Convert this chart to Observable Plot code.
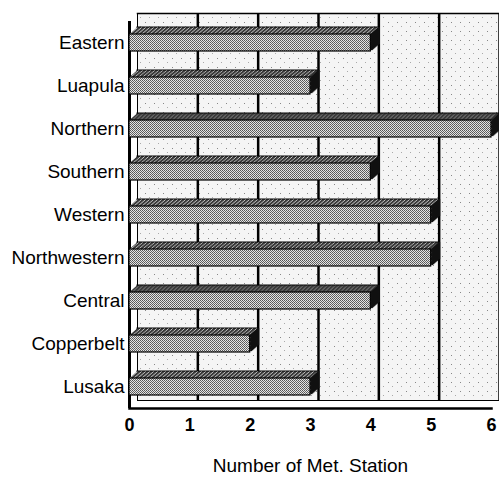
<!DOCTYPE html>
<html>
<head>
<meta charset="utf-8">
<script src="https://cdn.jsdelivr.net/npm/d3@7"></script>
<script src="https://cdn.jsdelivr.net/npm/@observablehq/plot@0.6"></script>
<style>
  html, body { margin: 0; padding: 0; background: #fff; }
  #chart { width: 499px; height: 484px; }
</style>
</head>
<body>
<div id="chart"></div>
<script>
const categories = ["Eastern", "Luapula", "Northern", "Southern", "Western", "Northwestern", "Central", "Copperbelt", "Lusaka"];
const stations = [4, 3, 6, 4, 5, 5, 4, 2, 3];
const xTicks = [0, 1, 2, 3, 4, 5, 6];
const gridTicks = [1, 2, 3, 4, 5, 6];
const xDomain = [0, 6];
const depthSteps = [8, 7, 6, 5, 4, 3, 2, 1];
const axisTitle = "Number of Met. Station";

const data = categories.map((name, i) => ({name, value: stations[i]}));

const DX = 8;

const extrusion = depthSteps.flatMap(k => [
  Plot.barX(data, {x: "value", y: "name", fill: "url(#topf)", dx: k, dy: -k * 0.875,
    stroke: k === 8 ? "black" : "none", strokeWidth: 1}),
  Plot.tickX(data, {x: "value", y: "name", stroke: "#111", strokeWidth: 2, dx: k, dy: -k * 0.875})
]);

const chart = Plot.plot({
  width: 499,
  height: 484,
  marginTop: 21,
  marginBottom: 76,
  marginLeft: 129,
  marginRight: 8,
  style: {fontFamily: "'Liberation Sans', Arial, sans-serif", color: "#000", background: "#fff"},
  x: {domain: xDomain},
  y: {domain: categories, paddingInner: 0.61, paddingOuter: 0.27},
  marks: [
    Plot.rect([xDomain], {x1: d => d[0], x2: d => d[1], fill: "url(#wall)", dx: DX, dy: -DX}),
    Plot.ruleX(gridTicks, {stroke: "#000", strokeWidth: 2.5, dx: DX, dy: -DX}),
    Plot.frame({anchor: "top", stroke: "#000", strokeWidth: 1.5, dx: DX, dy: -DX}),
    Plot.frame({anchor: "bottom", stroke: "#000", strokeWidth: 1, dx: DX, dy: -DX}),
    Plot.ruleX([0], {stroke: "#000", strokeWidth: 1, dx: DX, dy: -DX}),
    Plot.frame({anchor: "bottom", stroke: "#000", strokeWidth: 2.5}),
    Plot.ruleX([0], {stroke: "#000", strokeWidth: 3}),
    ...extrusion,
    Plot.barX(data, {x: "value", y: "name", fill: "url(#stip)", stroke: "#000", strokeWidth: 1.2}),
    Plot.axisX(xTicks, {tickSize: 0, tickPadding: 10, fontSize: 18, fontWeight: "bold", label: null}),
    Plot.axisY({tickSize: 0, tickPadding: 5, fontSize: 19, label: null}),
    Plot.text([axisTitle], {frameAnchor: "bottom", dy: 63, fontSize: 19, fill: "#000"})
  ]
});

d3.select(chart).insert("defs", ":first-child").html(`
  <pattern id="stip" width="2" height="2" patternUnits="userSpaceOnUse">
    <rect width="2" height="2" fill="#e4e4e4"/>
    <rect x="0" y="0" width="1" height="1" fill="#555"/>
    <rect x="1" y="1" width="1" height="1" fill="#666"/>
  </pattern>
  <pattern id="topf" width="4" height="4" patternUnits="userSpaceOnUse">
    <rect width="4" height="4" fill="#3a3a3a"/>
    <rect x="0" y="3" width="1" height="1" fill="#eee"/>
    <rect x="1" y="2" width="1" height="1" fill="#ccc"/>
    <rect x="2" y="1" width="1" height="1" fill="#eee"/>
  </pattern>
  <pattern id="wall" width="9" height="9" patternUnits="userSpaceOnUse">
    <rect width="9" height="9" fill="#f5f5f5"/>
    <rect x="2" y="3" width="1" height="1" fill="#888"/>
    <rect x="6" y="7" width="1" height="1" fill="#aaa"/>
  </pattern>
`);

document.getElementById("chart").appendChild(chart);
</script>
</body>
</html>
